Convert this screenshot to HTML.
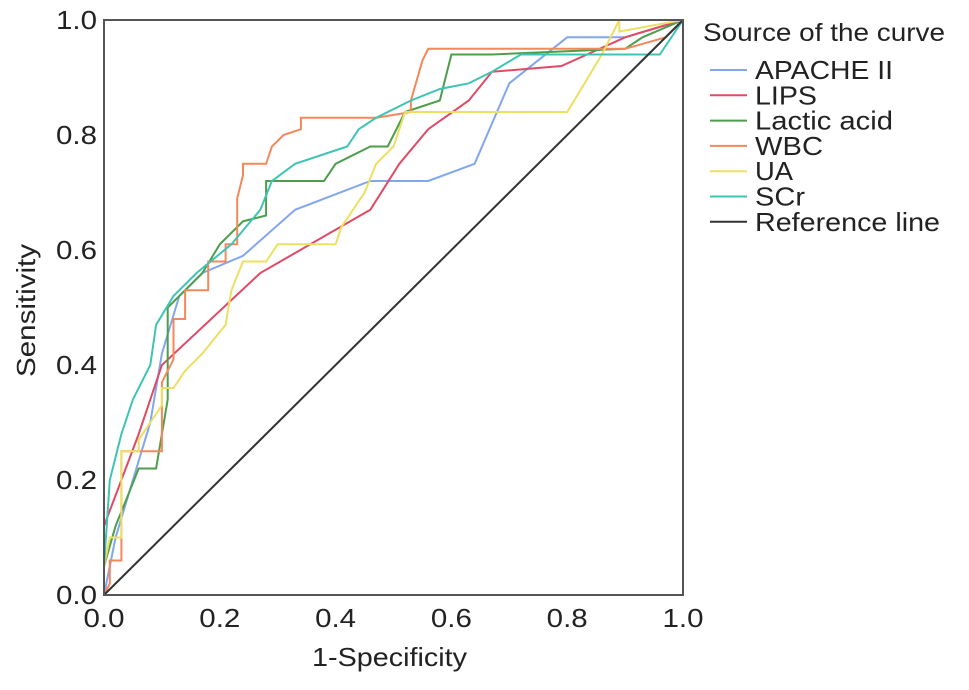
<!DOCTYPE html>
<html><head><meta charset="utf-8"><style>
body{margin:0;background:#fff}
svg text{font-family:"Liberation Sans",Arial,sans-serif;fill:#222}
</style></head><body>
<svg id="c" width="969" height="685">
<g id="plot"></g>
</svg>
<script>
const categories=["APACHE II","LIPS","Lactic acid","WBC","UA","SCr","Reference line"];
const colors=["#82a6f0","#e04a64","#4c9e4c","#f4885a","#ece062","#3fc4b4","#333"];
const apacheX=[0,0.02,0.05,0.08,0.1,0.13,0.17,0.24,0.33,0.46,0.56,0.64,0.7,0.8,0.9,1];
const apacheY=[0,0.1,0.2,0.3,0.42,0.52,0.56,0.59,0.67,0.72,0.72,0.75,0.89,0.97,0.97,1];
const lipsX=[0,0.03,0.06,0.09,0.1,0.27,0.46,0.51,0.56,0.63,0.67,0.79,0.9,1];
const lipsY=[0.12,0.2,0.28,0.37,0.4,0.56,0.67,0.75,0.81,0.86,0.91,0.92,0.97,1];
const lacticX=[0,0.02,0.04,0.06,0.09,0.11,0.11,0.14,0.17,0.2,0.24,0.28,0.28,0.38,0.4,0.46,0.49,0.52,0.58,0.6,0.67,0.9,0.93,1];
const lacticY=[0.05,0.12,0.17,0.22,0.22,0.34,0.5,0.53,0.56,0.61,0.65,0.66,0.72,0.72,0.75,0.78,0.78,0.84,0.86,0.94,0.94,0.95,0.97,1];
const wbcX=[0,0.01,0.01,0.03,0.03,0.1,0.1,0.12,0.12,0.14,0.14,0.18,0.18,0.21,0.21,0.23,0.23,0.24,0.24,0.28,0.29,0.31,0.34,0.34,0.47,0.53,0.53,0.55,0.56,0.9,0.97,1];
const wbcY=[0,0.02,0.06,0.06,0.25,0.25,0.37,0.41,0.48,0.48,0.53,0.53,0.58,0.58,0.61,0.61,0.69,0.73,0.75,0.75,0.78,0.8,0.81,0.83,0.83,0.84,0.86,0.93,0.95,0.95,0.97,1];
const uaX=[0,0.01,0.03,0.03,0.06,0.06,0.08,0.1,0.1,0.12,0.14,0.17,0.21,0.22,0.24,0.28,0.3,0.4,0.41,0.43,0.45,0.47,0.5,0.52,0.8,0.83,0.86,0.89,0.89,1];
const uaY=[0.05,0.1,0.1,0.25,0.25,0.27,0.3,0.33,0.36,0.36,0.39,0.42,0.47,0.53,0.58,0.58,0.61,0.61,0.64,0.67,0.7,0.75,0.78,0.84,0.84,0.89,0.94,1,0.98,1];
const scrX=[0,0.01,0.03,0.05,0.08,0.09,0.12,0.16,0.22,0.27,0.29,0.33,0.42,0.44,0.47,0.53,0.58,0.63,0.67,0.72,0.96,1];
const scrY=[0.05,0.2,0.28,0.34,0.4,0.47,0.52,0.56,0.61,0.67,0.72,0.75,0.78,0.81,0.83,0.86,0.88,0.89,0.91,0.94,0.94,1];
const refX=[0,1], refY=[0,1];
const tickLabels=["0.0","0.2","0.4","0.6","0.8","1.0"];
const tickVals=[0,0.2,0.4,0.6,0.8,1];
const legendWidths=[138,62,138,68,38,50,185];
const L=104,R=683,T=20,B=595;
const sx=v=>L+v*(R-L), sy=v=>B-v*(B-T);
const NS="http://www.w3.org/2000/svg";
const svg=document.getElementById('c'), g=document.getElementById('plot');
function mk(tag,attrs,parent){const e=document.createElementNS(NS,tag);for(const k in attrs)e.setAttribute(k,attrs[k]);(parent||svg).appendChild(e);return e;}
const series=[[apacheX,apacheY],[lipsX,lipsY],[lacticX,lacticY],[wbcX,wbcY],[uaX,uaY],[scrX,scrY],[refX,refY]];
series.forEach((s,i)=>{
  const d=s[0].map((x,j)=>(j?'L':'M')+sx(x).toFixed(1)+','+sy(s[1][j]).toFixed(1)).join('');
  const p=mk('path',{d:d,fill:'none',stroke:colors[i],'stroke-width':2},g);
  
  
});
const fr=mk('rect',{x:L,y:T,width:R-L,height:B-T,fill:'none',stroke:'#555','stroke-width':2});


tickVals.forEach((v,i)=>{
  const t=mk('text',{x:sx(v),y:B+32,'text-anchor':'middle','font-size':26,textLength:41,lengthAdjust:'spacingAndGlyphs'});
  t.textContent=tickLabels[i];
  
  
  const u=mk('text',{x:L-7,y:sy(v)+9,'text-anchor':'end','font-size':26,textLength:41,lengthAdjust:'spacingAndGlyphs'});
  u.textContent=tickLabels[i];
  
  
});
const xt=mk('text',{x:312,y:666,'font-size':26,textLength:155,lengthAdjust:'spacingAndGlyphs'});
xt.textContent='1-Specificity';


const yt=mk('text',{x:-377,y:35,'font-size':26,textLength:133,lengthAdjust:'spacingAndGlyphs',transform:'rotate(-90)'});
yt.textContent='Sensitivity';


const lt=mk('text',{x:703,y:41,'font-size':25,textLength:242,lengthAdjust:'spacingAndGlyphs'});
lt.textContent='Source of the curve';


categories.forEach((c,i)=>{
  const y=70+i*25.3;
  const ln=mk('line',{x1:710,x2:747,y1:y,y2:y,stroke:colors[i],'stroke-width':2});
  
  
  const t=mk('text',{x:755,y:y+9,'font-size':26,textLength:legendWidths[i],lengthAdjust:'spacingAndGlyphs'});
  t.textContent=c;
  
  
});
</script>
</body></html>
